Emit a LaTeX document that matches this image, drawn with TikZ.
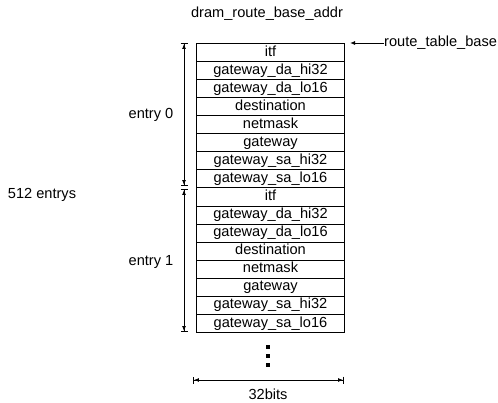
\documentclass[tikz,border=0pt]{standalone}
\usepackage{fontspec}
\setmainfont{Liberation Sans}
\usetikzlibrary{arrows.meta}
\begin{document}
\begin{tikzpicture}[x=1pt,y=-1pt,
 lbl/.style={font=\fontsize{14.6}{16}\selectfont, inner sep=0pt},
 cell/.style={draw, line width=1pt, minimum width=148pt, minimum height=18.06pt, inner sep=0pt,
   text height=10.2pt, text depth=3pt, font=\fontsize{14.6}{16}\selectfont, anchor=north west},
 dim/.style={line width=0.9pt, {Bar[width=7pt]Latex[length=5pt,width=4pt]}-{Latex[length=5pt,width=4pt]Bar[width=7pt]}},
 dotnode/.style={rectangle, fill, inner sep=0pt, minimum size=3.6pt}
]
\useasboundingbox (0,0) rectangle (498,403);
\foreach \t [count=\i from 0] in {itf,gateway\_da\_hi32,gateway\_da\_lo16,destination,netmask,gateway,gateway\_sa\_hi32,gateway\_sa\_lo16,itf,gateway\_da\_hi32,gateway\_da\_lo16,destination,netmask,gateway,gateway\_sa\_hi32,gateway\_sa\_lo16}
  \node[cell] (r\i) at (196,{43+18.06*\i}) {\t};
\node[lbl] (title) at (267,14) {dram\_route\_base\_addr};
\node[lbl, anchor=west] (rtb) at (384,43) {route\_table\_base};
\draw[line width=0.9pt, -{Latex[length=5pt,width=4pt]}] (rtb.west) -- ([xshift=5pt]r0.north east);
\coordinate (e0t) at (184,43);
\coordinate (e0b) at (184,186);
\coordinate (e1t) at (184,189);
\coordinate (e1b) at (184,332);
\draw[dim] (e0t) -- (e0b);
\draw[dim] (e1t) -- (e1b);
\node[lbl] (en0) at (151,115) {entry 0};
\node[lbl] (en1) at (151,262) {entry 1};
\node[lbl] (n512) at (42,195) {512 entrys};
\node[dotnode] (d1) at (268,347) {};
\node[dotnode] (d2) at (268,356) {};
\node[dotnode] (d3) at (268,365) {};
\coordinate (wl) at (193,380);
\coordinate (wr) at (344,380);
\draw[dim] (wl) -- (wr);
\node[lbl] (w32) at (268,394) {32bits};
\end{tikzpicture}
\end{document}
